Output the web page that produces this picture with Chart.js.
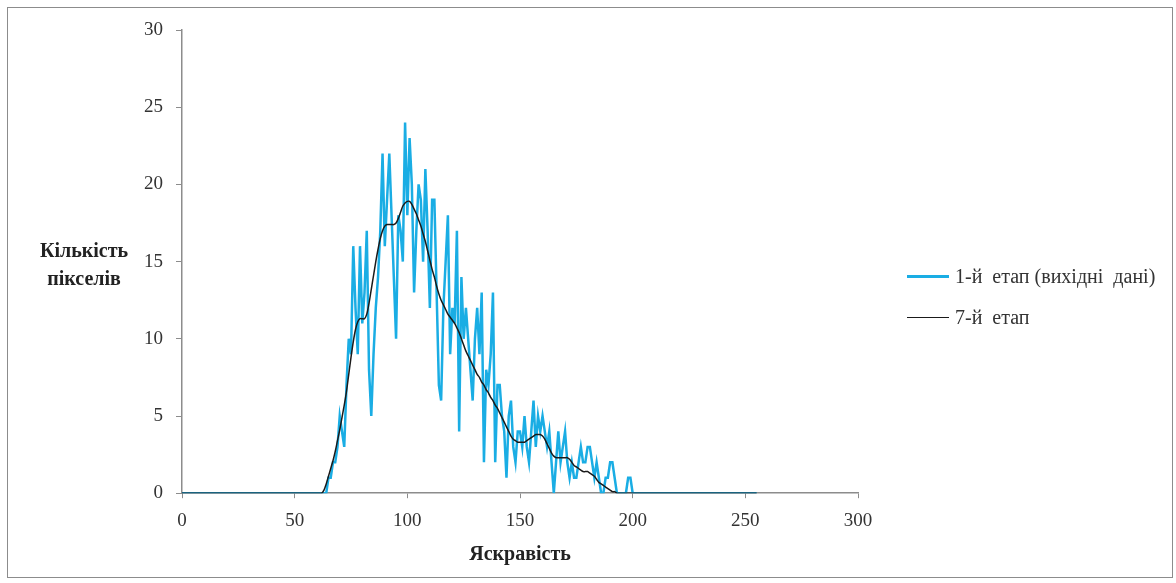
<!DOCTYPE html>
<html>
<head>
<meta charset="utf-8">
<script src="https://cdn.jsdelivr.net/npm/chart.js@4.4.1/dist/chart.umd.min.js"></script>
<style>
  html, body { margin: 0; padding: 0; background: #fff; }
  #wrap { position: relative; width: 1176px; height: 583px; }
  #frame { position: absolute; left: 7px; top: 7px; width: 1164px; height: 569px; border: 1px solid #8c8c8c; pointer-events: none; }
  #ytitle { position: absolute; left: 24px; top: 236px; width: 120px; text-align: center;
    font: bold 20px "Liberation Serif", serif; line-height: 28px; color: #222; }
  #legend { position: absolute; left: 907px; top: 256px; font: 20px "Liberation Serif", serif; color: #333; white-space: nowrap; }
  #legend div { height: 41px; display: flex; align-items: center; }
  #legend span.line { display: inline-block; width: 42px; margin-right: 6px; }
</style>
</head>
<body>
<div id="wrap">
  <canvas id="histChart" width="1176" height="583"></canvas>
  <div id="frame"></div>
  <div id="ytitle">Кількість<br>пікселів</div>
  <div id="legend">
    <div><span class="line" style="border-top:3px solid #1aade4"></span>1-й&nbsp; етап (вихідні&nbsp; дані)</div>
    <div><span class="line" style="border-top:1.5px solid #1a1a1a"></span>7-й&nbsp; етап</div>
  </div>
</div>
<script>
// Brightness levels 0..255 (index = brightness)
const stage1Values = [
    0,0,0,0,0,0,0,0,0,0, 0,0,0,0,0,0,0,0,0,0,       // 0-19
    0,0,0,0,0,0,0,0,0,0, 0,0,0,0,0,0,0,0,0,0,       // 20-39
    0,0,0,0,0,0,0,0,0,0, 0,0,0,0,0,0,0,0,0,0,       // 40-59
    0,0,0,0,0,1,1,2,2,3, 5,4,3,7,10,9,16,12,9,16,   // 60-79
    11,13,17,8,5,9,12,14,17,22, 16,19,22,18,14,10,18,17,15,24, // 80-99
    18,23,20,13,17,20,19,15,21,17, 12,19,19,13,7,6,12,15,18,9, // 100-119
    12,11,17,4,14,10,12,10,8,6, 10,12,9,13,2,8,7,9,13,2,       // 120-139
    7,7,5,4,1,5,6,3,2,4, 4,3,5,3,2,4,6,3,5,4,                  // 140-159
    5,4,3,4,2,0,2,4,2,3, 4,2,1,2,1,1,2,3,2,2,                  // 160-179
    3,3,2,1,2,1,0,0,1,1, 2,2,1,0,0,0,0,0,1,1,                  // 180-199
    0,0,0,0,0,0,0,0,0,0, 0,0,0,0,0,0,0,0,0,0,                  // 200-219
    0,0,0,0,0,0,0,0,0,0, 0,0,0,0,0,0,0,0,0,0,                  // 220-239
    0,0,0,0,0,0,0,0,0,0, 0,0,0,0,0,0                           // 240-255
];

const stage7Values = [
    0,0,0,0,0,0,0,0,0,0, 0,0,0,0,0,0,0,0,0,0,
    0,0,0,0,0,0,0,0,0,0, 0,0,0,0,0,0,0,0,0,0,
    0,0,0,0,0,0,0,0,0,0, 0,0,0,0,0,0,0,0,0,0,
    0,0,0,0.2,0.6,1.1,1.6,2.1,2.7,3.4, 4.1,4.9,5.7,6.6,7.7,8.8,9.8,10.6,11.1,11.3,
    11.3,11.3,11.6,12.3,13.2,14.1,15.0,15.8,16.5,17.0, 17.3,17.4,17.4,17.4,17.4,17.5,17.8,18.2,18.6,18.8,
    18.9,18.9,18.7,18.4,18.1,17.7,17.3,16.8,16.3,15.7, 15.1,14.5,14.0,13.4,12.9,12.5,12.2,11.9,11.6,11.4,
    11.2,11.0,10.7,10.4,10.0,9.6,9.2,8.9,8.6,8.3, 8.0,7.7,7.5,7.2,7.0,6.7,6.5,6.2,6.0,5.7,
    5.5,5.2,4.9,4.6,4.3,4.0,3.7,3.5,3.4,3.3, 3.3,3.3,3.3,3.4,3.5,3.6,3.7,3.8,3.8,3.8,
    3.7,3.5,3.2,2.9,2.6,2.4,2.3,2.3,2.3,2.3, 2.3,2.3,2.2,2.0,1.8,1.7,1.6,1.5,1.4,1.4,
    1.4,1.3,1.2,1.1,0.9,0.7,0.6,0.5,0.4,0.3, 0.2,0.1,0.1,0,0,0,0,0,0,0,
    0,0,0,0,0,0,0,0,0,0, 0,0,0,0,0,0,0,0,0,0,
    0,0,0,0,0,0,0,0,0,0, 0,0,0,0,0,0,0,0,0,0,
    0,0,0,0,0,0,0,0,0,0, 0,0,0,0,0,0
];

const xTicks = [0, 50, 100, 150, 200, 250, 300];
const yTicks = [0, 5, 10, 15, 20, 25, 30];

const toPoints = arr => arr.map((v, i) => ({ x: i, y: v }));

const axisFont = { family: '"Liberation Serif", serif', size: 19 };
const axisColor = '#8c8c8c';

new Chart(document.getElementById('histChart'), {
    type: 'line',
    data: {
        datasets: [{
            label: '1-й етап (вихідні дані)',
            data: toPoints(stage1Values),
            borderColor: '#1aade4',
            borderWidth: 2.5,
            pointRadius: 0,
            tension: 0,
            order: 2
        }, {
            label: '7-й етап',
            data: toPoints(stage7Values),
            borderColor: '#1a1a1a',
            borderWidth: 1.5,
            pointRadius: 0,
            tension: 0.3,
            order: 1
        }]
    },
    options: {
        responsive: false,
        animation: false,
        layout: { padding: { left: 131, right: 318, top: 30, bottom: 16 } },
        plugins: {
            legend: { display: false },
            tooltip: { enabled: false }
        },
        scales: {
            x: {
                type: 'linear',
                min: 0, max: 300,
                afterBuildTicks: s => { s.ticks = xTicks.map(v => ({ value: v })); },
                ticks: { font: axisFont, color: '#333', padding: 11, maxRotation: 0 },
                grid: { drawOnChartArea: false, drawTicks: true, tickLength: 5, color: axisColor },
                border: { color: axisColor, width: 1.5 },
                title: { display: true, text: 'Яскравість', color: '#222',
                         font: { family: '"Liberation Serif", serif', size: 20, weight: 'bold' },
                         padding: { top: 0, bottom: 0 } }
            },
            y: {
                min: 0, max: 30,
                afterBuildTicks: s => { s.ticks = yTicks.map(v => ({ value: v })); },
                ticks: { font: axisFont, color: '#333', padding: 13 },
                grid: { drawOnChartArea: false, drawTicks: true, tickLength: 6, color: axisColor },
                border: { color: axisColor, width: 1.5 }
            }
        }
    }
});
</script>
</body>
</html>
